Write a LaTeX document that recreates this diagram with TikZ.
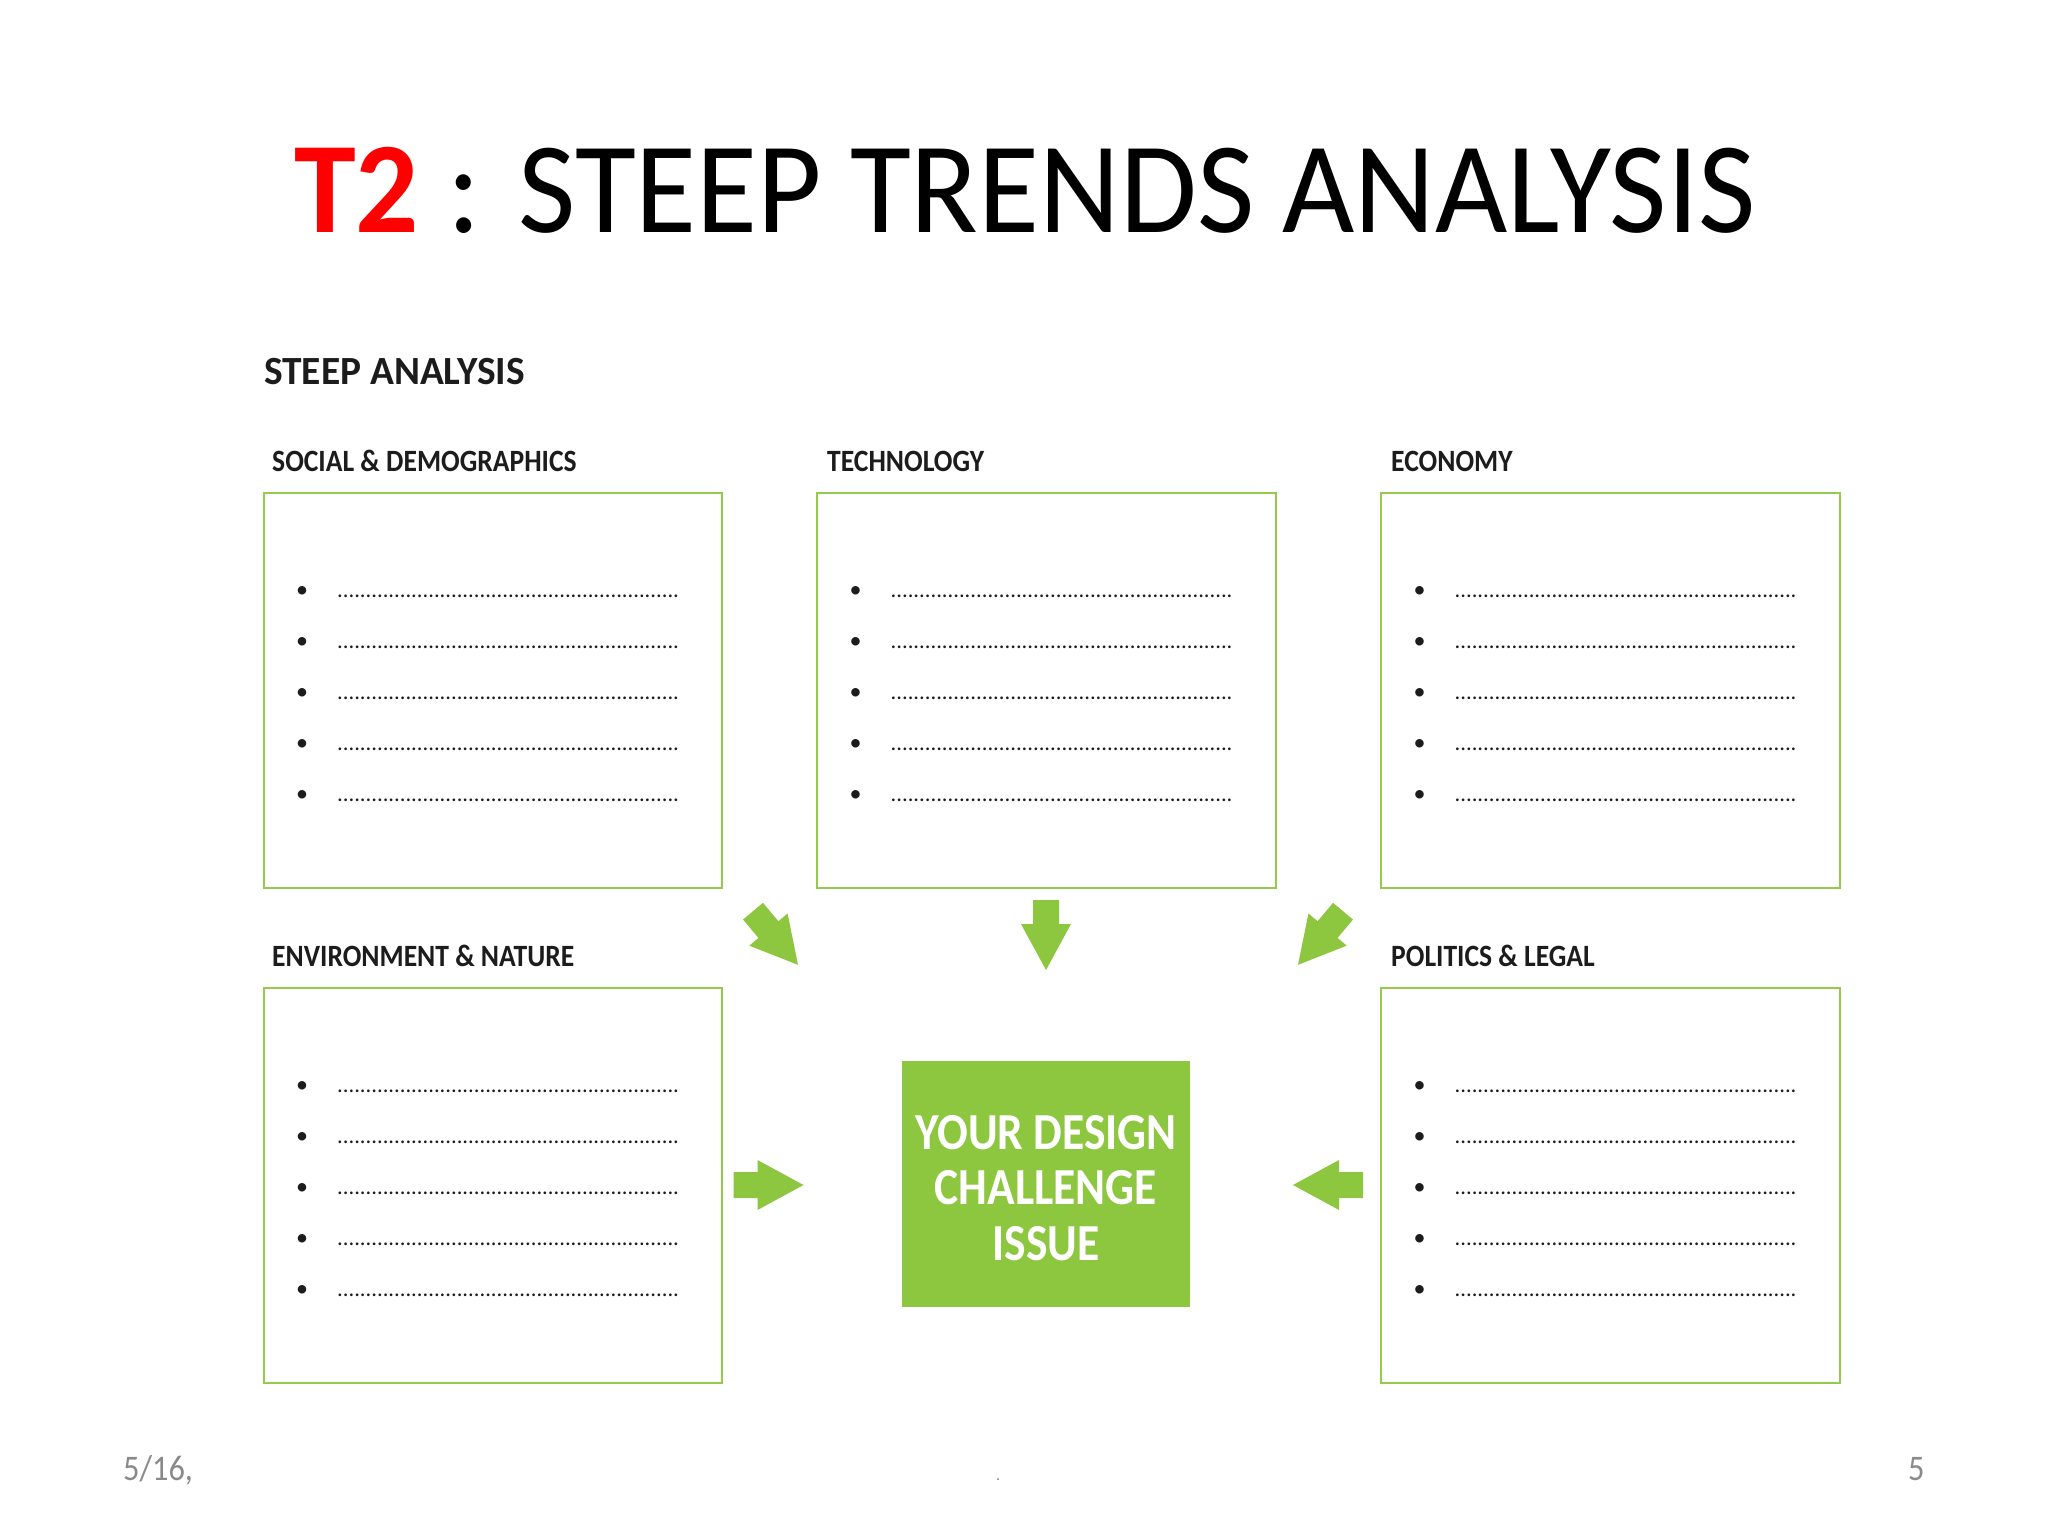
\documentclass[tikz,border=0pt]{standalone}
\usepackage{fontspec}
\setmainfont{Carlito}
\definecolor{lime}{HTML}{8DC63F}
\definecolor{panelline}{HTML}{94CA4E}
\definecolor{labelink}{HTML}{1C1C1C}
\definecolor{footgray}{HTML}{8A8A8A}
\newcommand{\tendots}{..........}
\newcommand{\dotrow}{\tendots\tendots\tendots\tendots\tendots\tendots}
\newcommand{\narrow}[2]{\scalebox{#1}[1]{#2}}
\tikzset{
  panel/.style={draw=panelline, line width=2pt, inner sep=0pt, minimum width=458.5pt, minimum height=395pt, anchor=north west},
  lab/.style={anchor=base west, inner sep=0pt, text=labelink, font=\fontsize{31}{31}\selectfont\bfseries},
  bul/.style={inner sep=0pt, text=labelink, font=\fontsize{24}{24}\selectfont},
  dotline/.style={anchor=base west, inner sep=0pt, text=labelink, font=\fontsize{22.6}{22.6}\selectfont},
  blockarrow/.pic={\fill[lime] (-35,-13) -- (-11,-13) -- (-11,-25) -- (35,0) -- (-11,25) -- (-11,13) -- (-35,13) -- cycle;},
  foot/.style={anchor=base west, inner sep=0pt, text=footgray, font=\fontsize{36}{36}\selectfont}
}
\begin{document}
\begin{tikzpicture}[x=1pt,y=-1pt]
\useasboundingbox (0,0) rectangle (2048,1536);
\fill[white] (0,0) rectangle (2048,1536);
% title
\node[anchor=base west, inner sep=0pt, font=\fontsize{130}{130}\selectfont] (title) at (294,232)
  {\narrow{0.96}{\textcolor{red}{\textbf{T2}} : STEEP TRENDS ANALYSIS}};
\node[anchor=base west, inner sep=0pt, text=labelink, font=\fontsize{40}{40}\selectfont\bfseries] (steep) at (264,384) {\narrow{0.985}{STEEP ANALYSIS}};
% panels
\node[panel] (soc) at (262.5,492) {};
\node[panel] (tech) at (816,492) {};
\node[panel] (eco) at (1380,492) {};
\node[panel] (env) at (262.5,987) {};
\node[panel] (pol) at (1380,987) {};
% labels
\node[lab] (socl) at (272,471) {\narrow{0.89}{SOCIAL \& DEMOGRAPHICS}};
\node[lab] (techl) at (827,471) {\narrow{0.89}{TECHNOLOGY}};
\node[lab] (ecol) at (1391,471) {\narrow{0.89}{ECONOMY}};
\node[lab] (envl) at (272,966) {\narrow{0.89}{ENVIRONMENT \& NATURE}};
\node[lab] (poll) at (1391,966) {\narrow{0.89}{POLITICS \& LEGAL}};
% bullets and dotted lines
\foreach \p in {soc,tech,eco,env,pol}{
  \foreach \i in {0,...,4}{
    \path (\p.north west) ++(39.5,{100+51*\i}) node[bul] (\p-b\i) {•};
    \path (\p.north west) ++(74.5,{105+51*\i}) node[dotline] (\p-d\i) {\dotrow};
  }
}
% centre
\node[fill=lime, inner sep=0pt, minimum width=287.5pt, minimum height=246.5pt] (core) at (1046,1184) {};
\node[inner sep=0pt, text=white, align=center, font=\fontsize{52}{55.5}\selectfont\bfseries] (coretext) at ([yshift=-4pt]core.center)
  {\narrow{0.875}{YOUR DESIGN}\\\narrow{0.875}{CHALLENGE}\\\narrow{0.875}{ISSUE}};
% arrows
\pic[rotate=-90] at (1046,935) {blockarrow};
\pic[rotate=-50] at (775.5,938) {blockarrow};
\pic[rotate=-130] at (1320.5,938) {blockarrow};
\pic at (768.5,1185) {blockarrow};
\pic[rotate=180] at (1328,1185) {blockarrow};
% footer
\node[foot] (date) at (123,1480) {\narrow{0.9}{5/16,}};
\node[foot] (page) at (1908,1480) {\narrow{0.9}{5}};
\node[foot, font=\fontsize{16}{16}\selectfont] (mid) at (996,1480) {.};
\end{tikzpicture}
\end{document}
